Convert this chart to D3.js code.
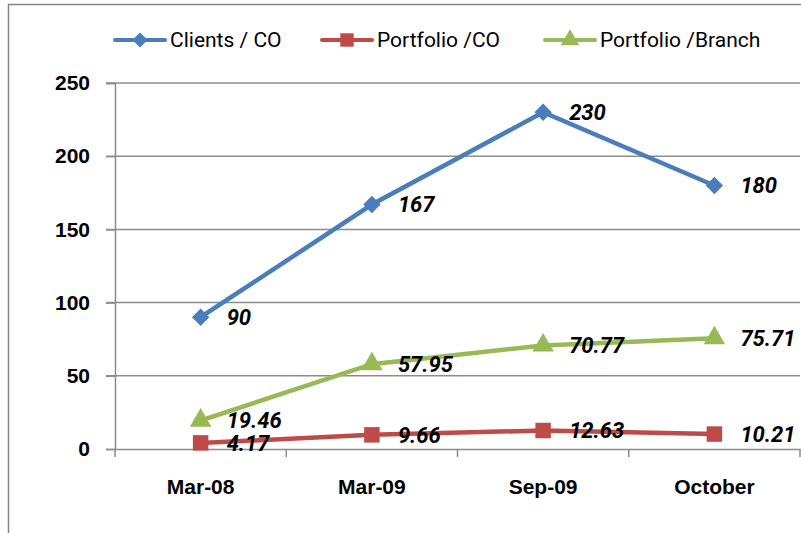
<!DOCTYPE html>
<meta charset="utf-8">
<style>
  body { margin: 0; background: #fff; }
  svg { font-family: Roboto, "Liberation Sans", sans-serif; }
</style>
<div id="chart"></div>
<script src="https://d3js.org/d3.v7.min.js"></script>
<script>
// data
let months = ["Mar-08", "Mar-09", "Sep-09", "October"];
let clientsPerCO = [90, 167, 230, 180];
let portfolioPerCO = [4.17, 9.66, 12.63, 10.21];
let portfolioPerBranch = [19.46, 57.95, 70.77, 75.71];
let yTicks = [0, 50, 100, 150, 200, 250];

let seriesList = [
  {name: "Clients / CO", values: clientsPerCO, color: "#4a7ebb", marker: d3.symbolSquare, size: 150, rotate: 45},
  {name: "Portfolio /CO", values: portfolioPerCO, color: "#be4b48", marker: d3.symbolSquare, size: 240, rotate: 0},
  {name: "Portfolio /Branch", values: portfolioPerBranch, color: "#98b954", marker: d3.symbolTriangle, size: 200, rotate: 0}
];

let width = 801, height = 533;
let plot = {left: 115, right: 800, top: 83, bottom: 449};

let svg = d3.select("#chart").append("svg")
  .attr("width", width)
  .attr("height", height);

// outer frame (left and top edges visible)
svg.append("path")
  .attr("d", "M8.5," + height + "V4.5H" + width)
  .attr("fill", "none")
  .attr("stroke", "#888")
  .attr("stroke-width", 1.5);

let x = d3.scaleBand()
  .domain(months)
  .range([plot.left, plot.right]);

let y = d3.scaleLinear()
  .domain([0, 250])
  .range([plot.bottom, plot.top]);

// gridlines
svg.append("g")
  .selectAll("line")
  .data(yTicks.filter(d => d > 0))
  .enter()
  .append("line")
    .attr("x1", plot.left - 9)
    .attr("x2", plot.right)
    .attr("y1", d => y(d))
    .attr("y2", d => y(d))
    .attr("stroke", "#8c8c8c")
    .attr("stroke-width", 1.5);

// y axis
let yAxis = svg.append("g")
  .attr("transform", "translate(" + plot.left + ",0)")
  .call(d3.axisLeft(y).tickValues(yTicks).tickSize(9).tickPadding(16));
yAxis.selectAll("text")
  .attr("font-size", 21)
  .attr("font-weight", "bold")
  .attr("fill", "#000");

// x axis
let xAxis = svg.append("g")
  .attr("transform", "translate(0," + plot.bottom + ")")
  .call(d3.axisBottom(x).tickSize(0).tickPadding(30));
xAxis.selectAll("text")
  .attr("font-size", 21)
  .attr("font-weight", "bold")
  .attr("fill", "#000");
xAxis.selectAll(".tick line").remove();
// category boundary ticks
xAxis.selectAll("line.bound")
  .data(d3.range(months.length + 1))
  .enter()
  .append("line")
    .attr("class", "bound")
    .attr("x1", i => plot.left + i * x.step())
    .attr("x2", i => plot.left + i * x.step())
    .attr("y1", 0)
    .attr("y2", 8)
    .attr("stroke", "#8c8c8c")
    .attr("stroke-width", 1.5);

svg.selectAll(".domain")
  .attr("stroke", "#8c8c8c")
  .attr("stroke-width", 1.5);
svg.selectAll(".tick line")
  .attr("stroke", "#8c8c8c")
  .attr("stroke-width", 1.5);

let cx = d => x(d) + x.bandwidth() / 2;

let line = d3.line()
  .x((d, i) => cx(months[i]))
  .y(d => y(d));

seriesList.forEach(s => {
  let g = svg.append("g");
  g.append("path")
    .datum(s.values)
    .attr("d", line)
    .attr("fill", "none")
    .attr("stroke", s.color)
    .attr("stroke-width", 4.5);
  g.selectAll("path.marker")
    .data(s.values)
    .enter()
    .append("path")
      .attr("class", "marker")
      .attr("d", d3.symbol().type(s.marker).size(s.size))
      .attr("transform", (d, i) => "translate(" + cx(months[i]) + "," + y(d) + ") rotate(" + s.rotate + ")")
      .attr("fill", s.color);
  g.selectAll("text")
    .data(s.values)
    .enter()
    .append("text")
      .attr("x", (d, i) => cx(months[i]) + 26)
      .attr("y", d => y(d))
      .attr("dy", "0.35em")
      .attr("font-size", 22)
      .attr("font-weight", "bold")
      .attr("font-style", "italic")
      .text(d => d);
});

// legend
let legendX = [115, 322, 545];
let legend = svg.append("g")
  .selectAll("g")
  .data(seriesList)
  .enter()
  .append("g")
    .attr("transform", (d, i) => "translate(" + legendX[i] + ",40)");
legend.append("line")
  .attr("x1", 0).attr("x2", 50)
  .attr("stroke", d => d.color)
  .attr("stroke-width", 4)
  .attr("stroke-linecap", "round");
legend.append("path")
  .attr("d", d => d3.symbol().type(d.marker).size(d.size * 0.75)())
  .attr("transform", d => "translate(25,0) rotate(" + d.rotate + ")")
  .attr("fill", d => d.color);
legend.append("text")
  .attr("x", 55)
  .attr("dy", "0.35em")
  .attr("font-size", 21)
  .text(d => d.name);
</script>
